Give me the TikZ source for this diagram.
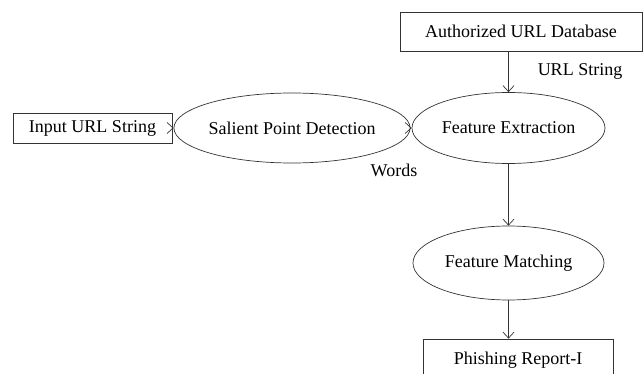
\documentclass[tikz,border=0pt]{standalone}
\usepackage{fontspec}
\setmainfont{Liberation Serif}
\usetikzlibrary{shapes.geometric,arrows.meta}
\begin{document}
\begin{tikzpicture}[x=1pt,y=-1pt,
  every node/.style={font=\fontsize{18}{20}\selectfont},
  boxnode/.style={draw=black!80,line width=0.7pt,rectangle,inner sep=0pt},
  ellnode/.style={draw=black!80,line width=0.7pt,ellipse,inner sep=0pt},
  plainlabel/.style={inner sep=0pt},
  conn/.style={draw=black!80,line width=0.7pt,-{Straight Barb[length=6pt,width=11pt]}}]
\useasboundingbox (0,0) rectangle (643,374);
\node[boxnode,minimum width=159pt,minimum height=30pt] (inp) at (92.5,128) {Input URL String};
\node[ellnode,minimum width=200pt,minimum height=70pt] (spd) at (292,128) {Salient Point Detection};
\node[ellnode,minimum width=193pt,minimum height=71pt] (fe) at (508.5,128) {Feature Extraction};
\node[boxnode,minimum width=242pt,minimum height=39pt] (db) at (521,31.5) {Authorized URL Database};
\node[ellnode,minimum width=191pt,minimum height=74pt] (fm) at (508.5,263) {Feature Matching};
\node[boxnode,minimum width=190pt,minimum height=42pt] (rep) at (518,360) {Phishing Report-I};
\node[plainlabel] (lurl) at (580,71) {URL String};
\node[plainlabel] (lwords) at (394,170) {Words};
\draw[conn] (inp) -- (spd);
\draw[conn] (spd) -- (fe);
\draw[conn] (fe.north |- db.south) -- (fe.north);
\draw[conn] (fe.south) -- (fm.north);
\draw[conn] (fm.south) -- (fm.south |- rep.north);
\end{tikzpicture}
\end{document}
